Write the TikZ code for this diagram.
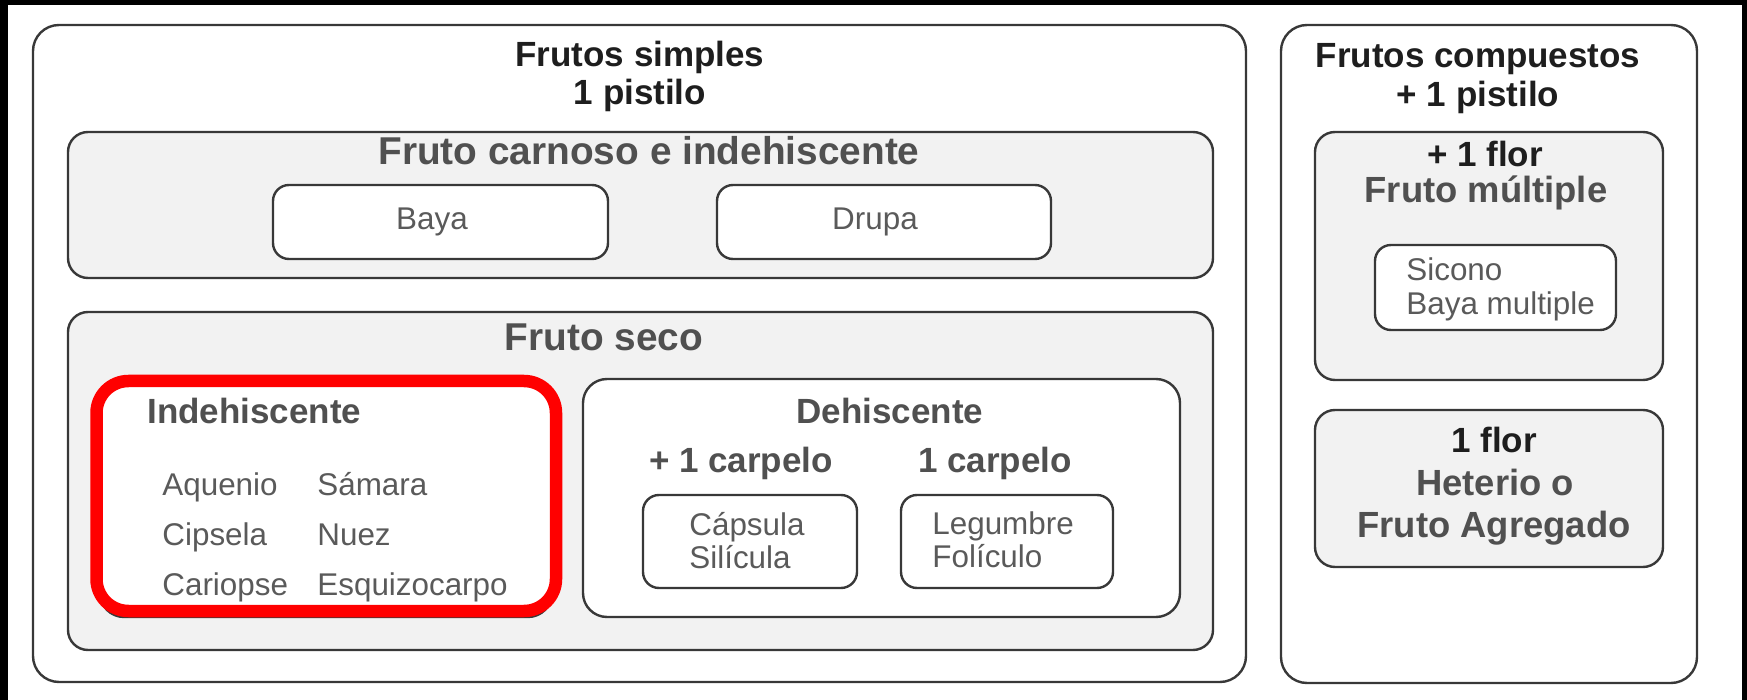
\documentclass[tikz,border=0pt]{standalone}
\usepackage{fontspec}
\setmainfont{Liberation Sans}
\usetikzlibrary{fit}
\definecolor{boxline}{HTML}{383838}
\definecolor{boxfill}{HTML}{F2F2F2}
\definecolor{ttlblack}{HTML}{1E1E1E}
\definecolor{ttlgrey}{HTML}{505050}
\definecolor{itemgrey}{HTML}{5A5A5A}

\begin{document}
\begin{tikzpicture}[x=0.5pt,y=-0.5pt,
    outer/.style={draw=boxline,line width=1.2pt,rounded corners=13pt,
                  inner sep=0pt,fill=white},
    group/.style={outer,fill=boxfill,rounded corners=10pt},
    leaf/.style={outer,rounded corners=8pt},
    ttl/.style={anchor=base,inner sep=0pt,text=ttlblack,
                font=\bfseries\fontsize{17.5}{21}\selectfont},
    sub/.style={ttl,text=ttlgrey},
    subbig/.style={sub,font=\bfseries\fontsize{18.2}{22}\selectfont},
    head/.style={sub,font=\bfseries\fontsize{19.4}{23}\selectfont},
    item/.style={anchor=base west,inner sep=0pt,text=itemgrey,
                 font=\fontsize{15.7}{19}\selectfont},
    hilite/.style={draw=red,line width=6.25pt,rounded corners=16pt,inner sep=0pt},
  ]
  \useasboundingbox (0,0) rectangle (1747,700);
  % frame
  \fill[black] (0,0) rectangle (1747,700);
  \fill[white] (8,5) rectangle (1742,700);

  % frutos simples
  \node[outer,fit={(33,25) (1246,682)}] (simples) {};
  \node[group,fit={(68,132) (1213,278)}] (carnoso) {};
  \node[leaf,fit={(273,185) (608,259)}] (baya) {};
  \node[leaf,fit={(717,185) (1051,259)}] (drupa) {};
  \node[group,fit={(68,312) (1213,650)}] (seco) {};
  \node[leaf,rounded corners=12pt,fit={(100,378) (552,617)}] (indeh) {};
  \node[leaf,rounded corners=12pt,fit={(583,379) (1180,617)}] (deh) {};
  \node[leaf,fit={(643,495) (857,588)}] (capsula) {};
  \node[leaf,fit={(901,495) (1113,588)}] (legumbre) {};

  \node[ttl] (simplesA) at (640,67) {Frutos simples};
  \node[ttl] (simplesB) at (640,105) {1 pistilo};
  \node[head] (carnosoT) at (649,165) {Fruto carnoso e indehiscente};
  \node[item,anchor=base] (bayaT) at (432,230) {Baya};
  \node[item,anchor=base] (drupaT) at (875,230) {Drupa};
  \node[head] (secoT) at (604,351) {Fruto seco};
  \node[sub,anchor=base west] (indehT) at (147,423) {Indehiscente};
  \node[sub] (dehT) at (890,423) {Dehiscente};
  \node[sub] (varT) at (741,473) {+ 1 carpelo};
  \node[sub] (oneT) at (995,473) {1 carpelo};

  \node[item] (aquenio) at (162,495) {Aquenio};
  \node[item] (samara) at (317,495) {Sámara};
  \node[item] (cipsela) at (162,545) {Cipsela};
  \node[item] (nuez) at (317,545) {Nuez};
  \node[item] (cariopse) at (162,595) {Cariopse};
  \node[item] (esquizo) at (317,595) {Esquizocarpo};
  \node[item] (capsulaT) at (689,535) {Cápsula};
  \node[item] (siliculaT) at (689,568) {Silícula};
  \node[item] (legumbreT) at (932,534) {Legumbre};
  \node[item] (foliculoT) at (932,567) {Folículo};

  % frutos compuestos
  \node[outer,fit={(1281,25) (1697,683)}] (compuestos) {};
  \node[group,fit={(1315,132) (1663,380)}] (multiple) {};
  \node[leaf,fit={(1375,245) (1616,330)}] (sicono) {};
  \node[group,fit={(1315,410) (1663,567)}] (agregado) {};

  \node[ttl] (compA) at (1478,68) {Frutos compuestos};
  \node[ttl] (compB) at (1478,107) {+ 1 pistilo};
  \node[ttl] (multA) at (1485,167) {+ 1 flor};
  \node[subbig] (multB) at (1486,203) {Fruto múltiple};
  \node[item] (siconoT) at (1406,281) {Sicono};
  \node[item] (bayamT) at (1406,315) {Baya multiple};
  \node[ttl] (agrA) at (1494,452) {1 flor};
  \node[subbig] (agrB) at (1495,495) {Heterio o};
  \node[subbig] (agrC) at (1494,537) {Fruto Agregado};

  % highlight
  \node[hilite,fit={(96.5,381) (556,611)}] (mark) {};
\end{tikzpicture}
\end{document}
